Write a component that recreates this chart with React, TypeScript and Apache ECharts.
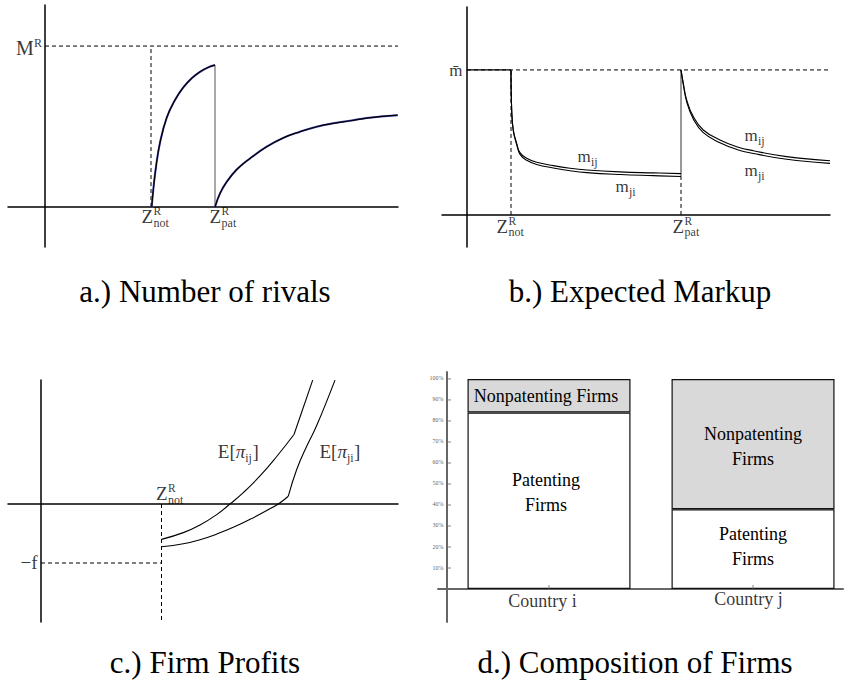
import React, { useEffect, useRef } from 'react';
import * as echarts from 'echarts';

const FONT = "'Liberation Serif', 'Times New Roman', serif";

// ---------- captions ----------
const captions = ['a.) Number of rivals', 'b.) Expected Markup', 'c.) Firm Profits', 'd.) Composition of Firms'];

// ---------- a.) Number of rivals ----------
const Z_NOT_A = 10.6;
const Z_PAT_A = 17.0;
const M_R = 1;
const rivalsNotX = [10.67, 10.85, 11.1, 11.5, 12.17, 13.0, 13.83, 14.67, 15.5, 16.33, 17.0];
const rivalsNotY = [0, 0.12, 0.25, 0.4, 0.555, 0.665, 0.743, 0.8, 0.84, 0.868, 0.882];
const rivalsPatX = [17.0, 17.5, 18.2, 19.2, 20.5, 22.17, 23.83, 25.5, 27.17, 28.83, 30.5, 32.17, 35.27];
const rivalsPatY = [0, 0.085, 0.16, 0.235, 0.302, 0.375, 0.43, 0.468, 0.499, 0.52, 0.536, 0.553, 0.571];

// ---------- b.) Expected markup ----------
const M_BAR = 1;
const Z_NOT_B = 4.4;
const Z_PAT_B = 21.4;
const markupNotX = [4.4, 4.47, 4.63, 4.97, 5.3, 5.97, 6.97, 8.63, 10.3, 11.97, 15.3, 18.63, 21.4];
const markupNotIJ = [1, 0.724, 0.586, 0.494, 0.43, 0.391, 0.363, 0.34, 0.322, 0.31, 0.297, 0.29, 0.285];
const markupNotJI = [1, 0.72, 0.58, 0.485, 0.418, 0.377, 0.348, 0.324, 0.305, 0.292, 0.279, 0.271, 0.265];
const markupPatX = [21.4, 21.63, 21.97, 22.63, 23.63, 25.3, 26.97, 28.63, 31.97, 36.3];
const markupPatIJ = [1, 0.908, 0.793, 0.678, 0.586, 0.517, 0.471, 0.443, 0.402, 0.374];
const markupPatJI = [1, 0.9, 0.78, 0.662, 0.568, 0.498, 0.452, 0.424, 0.384, 0.356];

// ---------- c.) Firm profits ----------
const Z_NOT_C = 12.05;
const FIXED_COST = 1;
const profitIJX = [12.05, 14.23, 15.9, 17.57, 18.9, 20.23, 21.9, 23.57, 25.3];
const profitIJY = [-0.6, -0.485, -0.355, -0.18, 0, 0.193, 0.475, 0.805, 1.178];
const profitIJUpperX = [25.3, 27.17];
const profitIJUpperY = [1.178, 2.1];
const profitJIX = [12.05, 14.23, 15.9, 17.57, 19.23, 20.9, 22.57, 23.73, 24.73];
const profitJIY = [-0.725, -0.675, -0.605, -0.51, -0.395, -0.26, -0.11, 0, 0.132];
const profitJIUpperX = [24.73, 25.57, 26.57, 27.57, 29.4];
const profitJIUpperY = [0.132, 0.585, 0.98, 1.33, 2.1];

// ---------- d.) Composition of firms ----------
const countries = ['Country i', 'Country j'];
const countryPos = [0.5, 1.5];
const patentingShare = [84, 38];
const nonpatentingShare = [16, 62];
const patentingLabels = ['Patenting\nFirms', 'Patenting\nFirms'];
const nonpatentingLabels = ['Nonpatenting Firms', 'Nonpatenting\nFirms'];
const pctTicks = [10, 20, 30, 40, 50, 60, 70, 80, 90, 100];

// ---------- layout ----------
const grids = [
  { left: 8, top: 5, width: 390, height: 242 },
  { left: 442, top: 7, width: 388, height: 240 },
  { left: 8, top: 380, width: 390, height: 242 },
  { left: 438, top: 372, width: 405, height: 250 },
];
const xRanges = [[-3.7, 35.3], [-2.5, 36.3], [-3.3, 35.7], [-0.0441, 1.941]];
const yRanges = [[-0.248, 1.255], [-0.221, 1.434], [-2.0, 2.102], [-15.7, 103.3]];

const zip = (xs: number[], ys: number[]) => xs.map((x, i) => [x, ys[i]]);

let measureCtx: CanvasRenderingContext2D | null = null;
function measure(t: string, s: number, it?: boolean): number {
  if (!measureCtx) measureCtx = document.createElement('canvas').getContext('2d');
  if (!measureCtx) return t.length * s * 0.5;
  measureCtx.font = `${it ? 'italic ' : ''}${s}px ${FONT}`;
  return measureCtx.measureText(t).width;
}

type Part = { t: string; s: number; dy?: number; it?: boolean; stay?: boolean; gap?: number };
type Lbl = {
  x: number; y: number; text: string; size: number; dx: number; dy: number;
  italic?: boolean; align?: string; color?: string;
};

function mathLabel(x: number, y: number, dx: number, dy: number, parts: Part[]): Lbl[] {
  const out: Lbl[] = [];
  let cx = dx;
  for (const p of parts) {
    out.push({ x, y, text: p.t, size: p.s, dx: cx + (p.gap ?? 0), dy: dy + (p.dy ?? 0), italic: p.it });
    if (!p.stay) cx += measure(p.t, p.s, p.it) + (p.gap ?? 0);
  }
  return out;
}
function width(parts: Part[]): number {
  let w = 0;
  for (const p of parts) if (!p.stay) w += measure(p.t, p.s, p.it) + (p.gap ?? 0);
  return w;
}

const zParts = (sub: string): Part[] => [
  { t: 'Z', s: 19 },
  { t: 'R', s: 11.5, dy: -5.6, stay: true, gap: 0.5 },
  { t: sub, s: 12, dy: 6.3, gap: 0.5 },
];
const mParts = (sub: string): Part[] => [
  { t: 'm', s: 17 },
  { t: sub, s: 12, dy: 5.5, gap: 0.3 },
];
const piParts = (sub: string): Part[] => [
  { t: 'E[', s: 19 },
  { t: 'π', s: 19, it: true },
  { t: sub, s: 12, dy: 6 },
  { t: ']', s: 19, gap: 0.5 },
];

function labelSeries(idx: number, items: Lbl[]) {
  return {
    type: 'scatter',
    xAxisIndex: idx,
    yAxisIndex: idx,
    symbolSize: 1,
    itemStyle: { color: 'rgba(0,0,0,0)' },
    silent: true,
    z: 10,
    data: items.map((it) => ({
      value: [it.x, it.y],
      label: {
        show: true,
        position: [it.dx, it.dy],
        align: it.align ?? 'left',
        verticalAlign: 'middle',
        formatter: it.text,
        fontSize: it.size,
        fontFamily: FONT,
        fontStyle: it.italic ? 'italic' : 'normal',
        color: it.color ?? '#000',
      },
    })),
  };
}

function line(idx: number, data: number[][], style: any = {}, extra: any = {}) {
  return {
    type: 'line',
    xAxisIndex: idx,
    yAxisIndex: idx,
    data,
    symbol: 'none',
    silent: true,
    lineStyle: { color: '#000', width: 1.2, ...style },
    z: 3,
    ...extra,
  };
}
const DASH = { type: [4, 3], width: 1 };
const SMOOTH = { smooth: 0.45 };

function buildOption() {
  const xAxis: any[] = grids.map((_, i) => ({
    type: 'value',
    gridIndex: i,
    min: xRanges[i][0],
    max: xRanges[i][1],
    axisLine: { show: true, onZero: true, lineStyle: { color: '#000', width: 1.5 } },
    axisTick: { show: false },
    axisLabel: { show: false },
    splitLine: { show: false },
  }));
  const yAxis: any[] = grids.map((_, i) => ({
    type: 'value',
    gridIndex: i,
    min: yRanges[i][0],
    max: yRanges[i][1],
    axisLine: { show: true, onZero: true, lineStyle: { color: '#000', width: 1.5 } },
    axisTick: { show: false },
    axisLabel: { show: false },
    splitLine: { show: false },
  }));
  xAxis[3].axisLine.lineStyle = { color: '#666', width: 2 };
  yAxis[3].axisLine.lineStyle = { color: '#666', width: 2 };

  const series: any[] = [];

  // ----- a -----
  series.push(line(0, [[0, M_R], [xRanges[0][1], M_R]], DASH));
  series.push(line(0, [[Z_NOT_A, 0], [Z_NOT_A, M_R]], DASH));
  series.push(line(0, zip(rivalsNotX, rivalsNotY), { color: '#4444b0', width: 2.0 }, SMOOTH));
  series.push(line(0, zip(rivalsNotX, rivalsNotY), { color: '#000', width: 1.2 }, { ...SMOOTH, z: 4 }));
  series.push(line(0, [[Z_PAT_A, rivalsNotY[rivalsNotY.length - 1]], [Z_PAT_A, 0]], { color: '#555', width: 1 }));
  series.push(line(0, zip(rivalsPatX, rivalsPatY), { color: '#4444b0', width: 2.0 }, SMOOTH));
  series.push(line(0, zip(rivalsPatX, rivalsPatY), { color: '#000', width: 1.2 }, { ...SMOOTH, z: 4 }));
  const mrParts: Part[] = [{ t: 'M', s: 20 }, { t: 'R', s: 12, dy: -5.5, gap: 0.3 }];
  series.push(
    labelSeries(0, [
      ...mathLabel(0, M_R, -width(mrParts) - 2.5, 2.8, mrParts),
      ...mathLabel(Z_NOT_A, 0, -9, 10, zParts('not')),
      ...mathLabel(Z_PAT_A, 0, -5, 10, zParts('pat')),
    ])
  );

  // ----- b -----
  series.push(line(1, [[0, M_BAR], [xRanges[1][1], M_BAR]], DASH));
  series.push(line(1, [[0, M_BAR], [Z_NOT_B, M_BAR]], { width: 1.2 }));
  series.push(line(1, [[Z_NOT_B, 0], [Z_NOT_B, M_BAR]], DASH));
  series.push(line(1, [[Z_PAT_B, 0], [Z_PAT_B, markupNotJI[markupNotJI.length - 1]]], DASH));
  series.push(line(1, [[Z_PAT_B, markupNotJI[markupNotJI.length - 1]], [Z_PAT_B, M_BAR]], { color: '#333', width: 1 }));
  series.push(line(1, zip(markupNotX, markupNotIJ), { width: 1.1 }, SMOOTH));
  series.push(line(1, zip(markupNotX, markupNotJI), { width: 1.1 }, SMOOTH));
  series.push(line(1, zip(markupPatX, markupPatIJ), { width: 1.1 }, SMOOTH));
  series.push(line(1, zip(markupPatX, markupPatJI), { width: 1.1 }, SMOOTH));
  const mbar: Part[] = [{ t: 'm\u0304', s: 17 }];
  series.push(
    labelSeries(1, [
      ...mathLabel(0, M_BAR, -width(mbar) - 4, 1.4, mbar),
      ...mathLabel(Z_NOT_B, 0, -14, 11.7, zParts('not')),
      ...mathLabel(Z_PAT_B, 0, -8, 11.7, zParts('pat')),
      ...mathLabel(11.1, 0.403, 0, 0, mParts('ij')),
      ...mathLabel(14.9, 0.196, 0, 0, mParts('ji')),
      ...mathLabel(27.8, 0.546, 0, 0, mParts('ij')),
      ...mathLabel(27.8, 0.305, 0, 0, mParts('ji')),
    ])
  );

  // ----- c -----
  series.push(line(2, [[Z_NOT_C, 0], [Z_NOT_C, yRanges[2][0]]], DASH));
  series.push(line(2, [[0, -FIXED_COST], [Z_NOT_C, -FIXED_COST]], DASH));
  series.push(line(2, zip(profitIJX, profitIJY), { width: 1.1 }, SMOOTH));
  series.push(line(2, zip(profitIJUpperX, profitIJUpperY), { width: 1.1 }));
  series.push(line(2, zip(profitJIX, profitJIY), { width: 1.1 }, SMOOTH));
  series.push(line(2, zip(profitJIUpperX, profitJIUpperY), { width: 1.1 }, SMOOTH));
  const fParts: Part[] = [{ t: '\u2212f', s: 19 }];
  series.push(
    labelSeries(2, [
      ...mathLabel(0, -FIXED_COST, -width(fParts) - 3, 0, fParts),
      ...mathLabel(Z_NOT_C, 0, -5, -10.3, zParts('not')),
      ...mathLabel(17.73, 0.88, 0, 0, piParts('ij')),
      ...mathLabel(27.9, 0.88, 0, 0, piParts('ji')),
    ])
  );

  // ----- d -----
  // Columns are [share, position] so that the stack accumulates the share (y) dimension.
  const barLabel = { show: true, position: 'inside', fontSize: 18, lineHeight: 25, fontFamily: FONT, color: '#000', textBorderWidth: 0 };
  const patOffsets = [[-3, -8], [0, -3]];
  const nonOffsets = [[-3, 0], [0, 2.5]];
  const barBase = {
    type: 'bar',
    xAxisIndex: 3,
    yAxisIndex: 3,
    stack: 'firms',
    barWidth: 163,
    silent: true,
    encode: { x: 1, y: 0 },
  };
  series.push({
    ...barBase,
    itemStyle: { color: '#ffffff', borderColor: '#111', borderWidth: 1.2 },
    data: countryPos.map((x, i) => ({
      value: [patentingShare[i], x],
      label: { ...barLabel, formatter: patentingLabels[i], offset: patOffsets[i] },
    })),
  });
  series.push({
    ...barBase,
    itemStyle: { color: '#d9d9d9', borderColor: '#111', borderWidth: 1.2 },
    data: countryPos.map((x, i) => ({
      value: [nonpatentingShare[i], x],
      label: { ...barLabel, formatter: nonpatentingLabels[i], offset: nonOffsets[i] },
    })),
  });
  // axis ticks of panel d (small marks at each percentage and under each bar)
  series.push({
    type: 'scatter',
    xAxisIndex: 3,
    yAxisIndex: 3,
    silent: true,
    symbol: 'rect',
    symbolSize: [4, 1],
    symbolOffset: [2, 0],
    itemStyle: { color: '#666' },
    data: pctTicks.map((v) => [0, v]),
    z: 6,
  });
  series.push({
    type: 'scatter',
    xAxisIndex: 3,
    yAxisIndex: 3,
    silent: true,
    symbol: 'rect',
    symbolSize: [1, 4],
    symbolOffset: [0, -2],
    itemStyle: { color: '#666' },
    data: countryPos.map((x) => [x, 0]),
    z: 6,
  });
  const countryDx = [-6, -4];
  const countryDy = [12, 10];
  series.push(
    labelSeries(3, [
      ...pctTicks.map((v) => ({ x: 0, y: v, text: `${v}%`, size: 6, dx: -3, dy: 0, align: 'right', color: '#333' })),
      ...countryPos.map((x, i) => ({ x, y: 0, text: countries[i], size: 18, dx: countryDx[i], dy: countryDy[i], align: 'center' })),
    ])
  );

  const capX = [205, 640, 205, 635];
  const capY = [291, 291, 662, 662];
  const CAP_SIZE = 31;

  return {
    animation: false,
    backgroundColor: '#ffffff',
    textStyle: { fontFamily: FONT },
    grid: grids.map((g) => ({ ...g, containLabel: false })),
    title: captions.map((c, i) => ({
      text: c,
      left: capX[i] - measure(c, CAP_SIZE) / 2,
      top: capY[i] - CAP_SIZE / 2,
      padding: 0,
      itemGap: 0,
      textStyle: { fontSize: CAP_SIZE, fontFamily: FONT, fontWeight: 'normal', color: '#000', lineHeight: CAP_SIZE },
    })),
    xAxis,
    yAxis,
    series,
  };
}

export default function App() {
  const ref = useRef<HTMLDivElement>(null);
  useEffect(() => {
    document.body.style.margin = '0';
    if (!ref.current) return;
    const chart = echarts.init(ref.current, undefined, { renderer: 'svg' });
    chart.setOption(buildOption() as any);
    return () => chart.dispose();
  }, []);
  return <div ref={ref} style={{ width: 844, height: 681, background: '#fff' }} />;
}
